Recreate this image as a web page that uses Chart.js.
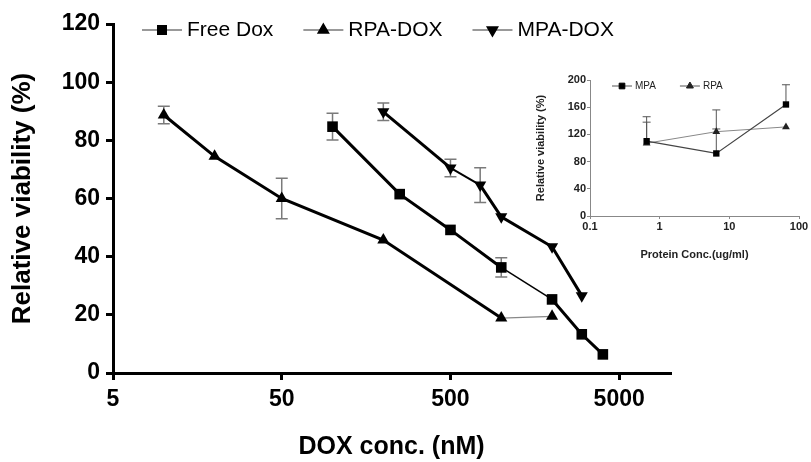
<!DOCTYPE html>
<html>
<head>
<meta charset="utf-8">
<title>Relative viability vs DOX concentration</title>
<script src="https://cdn.jsdelivr.net/npm/chart.js@4.4.1/dist/chart.umd.min.js"></script>
<style>
  body { margin: 0; background: #fff; }
  #wrap { position: relative; width: 811px; height: 462px; }
  #main { position: absolute; left: 0; top: 0; }
  #inset { position: absolute; left: 520px; top: 60px; }
</style>
</head>
<body>
<div id="wrap">
  <canvas id="main" width="811" height="462"></canvas>
  <canvas id="inset" width="291" height="205"></canvas>
</div>
<script>
// DOX dose-response, concentration in nM, viability in % (mean and SD)
const freeDoxConc = [100, 250, 500, 1000, 2000, 3000, 4000];
const freeDoxViability = [84.7, 61.5, 49.2, 36.3, 25.3, 13.3, 6.4];
const freeDoxSd = [4.6, 0, 0, 3.3, 0, 0, 0];

const rpaDoxConc = [10, 20, 50, 200, 1000, 2000];
const rpaDoxViability = [88.7, 74.5, 60, 45.7, 18.9, 19.5];
const rpaDoxSd = [3, 0, 7, 0, 0, 0];

const mpaDoxConc = [200, 500, 750, 1000, 2000, 3000];
const mpaDoxViability = [89.8, 70.5, 64.6, 53.7, 43.4, 26.6];
const mpaDoxSd = [3, 3, 6, 0, 0, 0];

const doxTicks = [5, 50, 500, 5000];

// carrier proteins alone, concentration in ug/ml
const proteinConc = [0.65, 6.5, 65];
const mpaViability = [110, 92, 164];
const mpaSd = [36, 36, 29];
const rpaViability = [107, 124, 131];
const rpaSd = [31, 32, 0];

const proteinTicks = [0.1, 1, 10, 100];

const FONT = "'Liberation Sans', Arial, Helvetica, sans-serif";

function pairs(xs, ys) {
  return xs.map((x, i) => ({ x: x, y: ys[i] }));
}

// vertical SD bars with caps, drawn under the markers
const errorBars = {
  id: 'errorBars',
  beforeDatasetsDraw(chart, args, opts) {
    const ctx = chart.ctx;
    const ys = chart.scales.y;
    chart.data.datasets.forEach((ds, di) => {
      if (!ds.sd) return;
      const meta = chart.getDatasetMeta(di);
      ctx.save();
      ctx.strokeStyle = opts.color;
      ctx.lineWidth = opts.width;
      meta.data.forEach((pt, i) => {
        const sd = ds.sd[i];
        if (!sd) return;
        const v = ds.data[i].y;
        const top = ys.getPixelForValue(v + sd);
        const bot = opts.upOnly ? pt.y : ys.getPixelForValue(v - sd);
        ctx.beginPath();
        ctx.moveTo(pt.x, top);
        ctx.lineTo(pt.x, bot);
        ctx.moveTo(pt.x - opts.cap, top);
        ctx.lineTo(pt.x + opts.cap, top);
        if (!opts.upOnly) {
          ctx.moveTo(pt.x - opts.cap, bot);
          ctx.lineTo(pt.x + opts.cap, bot);
        }
        ctx.stroke();
      });
      ctx.restore();
    });
  }
};

// legend entries drawn as line - marker - line, then the label
const lineLegend = {
  id: 'lineLegend',
  afterDraw(chart, args, opts) {
    const ctx = chart.ctx;
    let x = opts.x;
    ctx.save();
    ctx.font = opts.font;
    ctx.textBaseline = 'middle';
    chart.data.datasets.forEach(ds => {
      ctx.strokeStyle = opts.lineColor;
      ctx.lineWidth = opts.lineWidth;
      ctx.beginPath();
      ctx.moveTo(x, opts.y);
      ctx.lineTo(x + opts.lineLength, opts.y);
      ctx.stroke();
      ctx.fillStyle = ds.pointBackgroundColor;
      ctx.strokeStyle = ds.pointBackgroundColor;
      Chart.helpers.drawPoint(ctx, {
        pointStyle: ds.pointStyle,
        rotation: ds.pointRotation || 0,
        radius: opts.radius,
        borderWidth: 1
      }, x + opts.lineLength / 2, opts.y);
      ctx.fillStyle = opts.color;
      ctx.fillText(ds.label, x + opts.lineLength + opts.textGap, opts.y);
      x += opts.lineLength + opts.textGap + ctx.measureText(ds.label).width + opts.itemGap;
    });
    ctx.restore();
  }
};

new Chart(document.getElementById('main'), {
  type: 'line',
  data: {
    datasets: [
      {
        label: 'Free Dox',
        data: pairs(freeDoxConc, freeDoxViability),
        sd: freeDoxSd,
        borderColor: '#000',
        borderWidth: 3,
        pointStyle: 'rect',
        pointRadius: 7.5,
        pointBackgroundColor: '#000',
        pointBorderWidth: 0,
        segment: { borderWidth: c => c.p0DataIndex === 3 ? 1.5 : undefined }
      },
      {
        label: 'RPA-DOX',
        data: pairs(rpaDoxConc, rpaDoxViability),
        sd: rpaDoxSd,
        borderColor: '#000',
        borderWidth: 3,
        pointStyle: 'triangle',
        pointRadius: 7,
        pointBackgroundColor: '#000',
        pointBorderWidth: 0,
        segment: {
          borderWidth: c => c.p0DataIndex === 4 ? 1.2 : undefined,
          borderColor: c => c.p0DataIndex === 4 ? '#888' : undefined
        }
      },
      {
        label: 'MPA-DOX',
        data: pairs(mpaDoxConc, mpaDoxViability),
        sd: mpaDoxSd,
        borderColor: '#000',
        borderWidth: 3,
        pointStyle: 'triangle',
        pointRotation: 180,
        pointRadius: 7,
        pointBackgroundColor: '#000',
        pointBorderWidth: 0,
        segment: { borderWidth: c => c.p0DataIndex === 1 ? 2 : undefined }
      }
    ]
  },
  options: {
    responsive: false,
    animation: false,
    events: [],
    clip: false,
    layout: { padding: { top: 24, right: 141, bottom: 0, left: 0 } },
    scales: {
      x: {
        type: 'logarithmic',
        min: 5,
        max: 10000,
        afterBuildTicks: s => { s.ticks = doxTicks.map(v => ({ value: v })); },
        afterFit: s => { s.height = 89; },
        ticks: {
          callback: v => String(v),
          font: { family: FONT, size: 23, weight: 'bold' },
          color: '#000',
          padding: 6,
          maxRotation: 0
        },
        grid: { drawOnChartArea: false, drawTicks: true, tickLength: 7, color: '#000', lineWidth: 3 },
        border: { color: '#000', width: 3 },
        title: {
          display: true,
          text: 'DOX conc. (nM)',
          font: { family: FONT, size: 25, weight: 'bold' },
          color: '#000',
          padding: { top: 0, bottom: 0 }
        }
      },
      y: {
        min: 0,
        max: 120,
        afterFit: s => { s.width = 113; },
        ticks: {
          stepSize: 20,
          font: { family: FONT, size: 23, weight: 'bold' },
          color: '#000',
          padding: 6
        },
        grid: { drawOnChartArea: false, drawTicks: true, tickLength: 7, color: '#000', lineWidth: 3 },
        border: { color: '#000', width: 3 },
        title: {
          display: true,
          text: 'Relative viability (%)',
          font: { family: FONT, size: 26, weight: 'bold' },
          color: '#000',
          padding: { top: 7, bottom: 0 }
        }
      }
    },
    plugins: {
      legend: { display: false },
      tooltip: { enabled: false },
      errorBars: { color: '#7a7a7a', width: 1.5, cap: 6, upOnly: false },
      lineLegend: {
        x: 142, y: 30, lineLength: 40, textGap: 5, itemGap: 30, radius: 6,
        lineColor: '#777', lineWidth: 1.5, color: '#000',
        font: '21px ' + FONT
      }
    }
  },
  plugins: [errorBars, lineLegend]
});

// inset: the proteins without drug
new Chart(document.getElementById('inset'), {
  type: 'line',
  data: {
    datasets: [
      {
        label: 'MPA',
        data: pairs(proteinConc, mpaViability),
        sd: mpaSd,
        borderColor: '#444',
        borderWidth: 1.2,
        pointStyle: 'rect',
        pointRadius: 4.5,
        pointBackgroundColor: '#000',
        pointBorderWidth: 0
      },
      {
        label: 'RPA',
        data: pairs(proteinConc, rpaViability),
        sd: rpaSd,
        borderColor: '#888',
        borderWidth: 1,
        pointStyle: 'triangle',
        pointRadius: 4.5,
        pointBackgroundColor: '#222',
        pointBorderWidth: 0
      }
    ]
  },
  options: {
    responsive: false,
    animation: false,
    events: [],
    clip: false,
    layout: { padding: { top: 20, right: 12, bottom: 0, left: 0 } },
    scales: {
      x: {
        type: 'logarithmic',
        min: 0.1,
        max: 100,
        afterBuildTicks: s => { s.ticks = proteinTicks.map(v => ({ value: v })); },
        afterFit: s => { s.height = 49; },
        ticks: {
          callback: v => String(v),
          font: { family: FONT, size: 11, weight: 'bold' },
          color: '#222',
          padding: 1,
          maxRotation: 0
        },
        grid: { drawOnChartArea: false, drawTicks: true, tickLength: 3, color: '#888', lineWidth: 1 },
        border: { color: '#888', width: 1 },
        title: {
          display: true,
          text: 'Protein Conc.(ug/ml)',
          font: { family: FONT, size: 11, weight: 'bold' },
          color: '#222',
          padding: { top: 0, bottom: 3.5 }
        }
      },
      y: {
        min: 0,
        max: 200,
        afterFit: s => { s.width = 70; },
        ticks: {
          stepSize: 40,
          font: { family: FONT, size: 11, weight: 'bold' },
          color: '#222',
          padding: 1
        },
        grid: { drawOnChartArea: false, drawTicks: true, tickLength: 3, color: '#888', lineWidth: 1 },
        border: { color: '#888', width: 1 },
        title: {
          display: true,
          text: 'Relative viability (%)',
          font: { family: FONT, size: 11, weight: 'bold' },
          color: '#222',
          padding: { top: 14, bottom: 0 }
        }
      }
    },
    plugins: {
      legend: { display: false },
      tooltip: { enabled: false },
      errorBars: { color: '#555', width: 1, cap: 4, upOnly: true },
      lineLegend: {
        x: 92, y: 26, lineLength: 20, textGap: 3, itemGap: 24, radius: 4,
        lineColor: '#555', lineWidth: 1, color: '#222',
        font: '10px ' + FONT
      }
    }
  },
  plugins: [errorBars, lineLegend]
});
</script>
</body>
</html>
